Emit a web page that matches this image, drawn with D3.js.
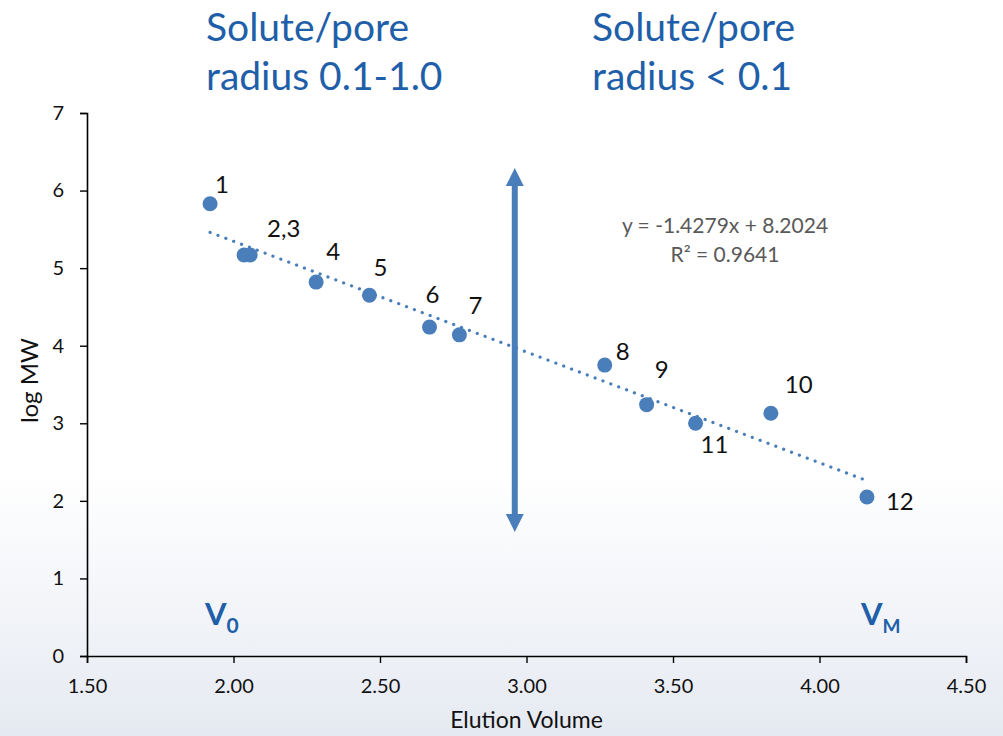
<!DOCTYPE html>
<html>
<head>
<meta charset="utf-8">
<script src="https://cdn.jsdelivr.net/npm/d3@7"></script>
<style>
  html, body { margin: 0; padding: 0; background: #fff; }
  svg { display: block; }
</style>
</head>
<body>
<svg id="chart" width="1003" height="736"></svg>
<script>
// Elution volume vs. log MW for twelve calibration solutes
const pointLabels = ["1", "2", "3", "4", "5", "6", "7", "8", "9", "10", "11", "12"];
const elutionVolume = [1.92, 2.036, 2.057, 2.282, 2.464, 2.669, 2.771, 3.267, 3.410, 3.834, 3.577, 4.162];
const logMW = [5.83, 5.17, 5.17, 4.82, 4.65, 4.24, 4.14, 3.75, 3.24, 3.13, 3.00, 2.05];

// Linear fit reported for the series
const fitSlope = -1.4279;
const fitIntercept = 8.2024;
const fitR2 = 0.9641;

const xTicks = [1.5, 2.0, 2.5, 3.0, 3.5, 4.0, 4.5];
const yTicks = [0, 1, 2, 3, 4, 5, 6, 7];

// Separation boundary marker (elution volume, log MW span)
const boundaryX = 2.96;
const boundarySpan = [1.60, 6.29];

const FONT = "Lato, 'Open Sans', sans-serif";
const BLUE = "#4a7ebb";
const TITLE_BLUE = "#1f5fa9";

const svg = d3.select("#chart");
const W = 1003, H = 736;

// soft backdrop toward the bottom
const defs = svg.append("defs");
const bg = defs.append("linearGradient").attr("id", "bg").attr("x1", 0).attr("y1", 0).attr("x2", 0).attr("y2", 1);
bg.append("stop").attr("offset", "0%").attr("stop-color", "#ffffff");
bg.append("stop").attr("offset", "64%").attr("stop-color", "#ffffff");
bg.append("stop").attr("offset", "82%").attr("stop-color", "#f3f5f9");
bg.append("stop").attr("offset", "100%").attr("stop-color", "#e5e9f1");
svg.append("rect").attr("width", W).attr("height", H).attr("fill", "url(#bg)");

const x = d3.scaleLinear().domain([1.5, 4.5]).range([87, 966]);
const y = d3.scaleLinear().domain([0, 7]).range([656, 113]);

// axes
const xAxis = d3.axisBottom(x).tickValues(xTicks).tickFormat(d3.format(".2f")).tickSize(7).tickPadding(16);
const yAxis = d3.axisLeft(y).tickValues(yTicks).tickFormat(d3.format("d")).tickSize(7).tickPadding(16);

const gx = svg.append("g").attr("transform", `translate(0,${y(0)})`).call(xAxis);
const gy = svg.append("g").attr("transform", `translate(${x(1.5)},0)`).call(yAxis);
[gx, gy].forEach(g => {
  g.select(".domain").attr("stroke", "#000").attr("stroke-width", 1.6);
  g.selectAll(".tick line").attr("stroke", "#000").attr("stroke-width", 1.4);
  g.selectAll(".tick text").attr("font-family", FONT).attr("font-size", 20).attr("fill", "#111");
});

svg.append("text")
  .attr("x", x(3.0)).attr("y", 728)
  .attr("text-anchor", "middle")
  .attr("font-family", FONT).attr("font-size", 23).attr("fill", "#111")
  .text("Elution Volume");

svg.append("text")
  .attr("transform", `translate(38,${y(3.55)}) rotate(-90)`)
  .attr("text-anchor", "middle")
  .attr("font-family", FONT).attr("font-size", 24).attr("fill", "#111")
  .text("log MW");

// trendline across the data range
const xMin = d3.min(elutionVolume), xMax = d3.max(elutionVolume);
svg.append("line")
  .attr("x1", x(xMin)).attr("y1", y(fitSlope * xMin + fitIntercept))
  .attr("x2", x(xMax)).attr("y2", y(fitSlope * xMax + fitIntercept))
  .attr("stroke", BLUE).attr("stroke-width", 3.2)
  .attr("stroke-linecap", "round")
  .attr("stroke-dasharray", "0.1 8.3");

// data points
const pts = pointLabels.map((l, i) => ({ label: l, vx: elutionVolume[i], vy: logMW[i] }));
svg.append("g").selectAll("circle").data(pts).join("circle")
  .attr("cx", d => x(d.vx)).attr("cy", d => y(d.vy))
  .attr("r", 7.5).attr("fill", BLUE);

// point labels (2 and 3 share one label); offsets are in pixels from the point
const labelText = ["1", "2,3", null, "4", "5", "6", "7", "8", "9", "10", "11", "12"];
const labelOffset = [[5, -11], [23, -18], null, [10, -22], [4, -19], [-4, -24], [9, -21], [11, -5], [8, -27], [14, -20], [5, 30], [19, 13]];
svg.append("g").selectAll("text").data(pts.map((d, i) => ({ ...d, t: labelText[i], o: labelOffset[i] })).filter(d => d.t))
  .join("text")
  .attr("x", d => x(d.vx) + d.o[0]).attr("y", d => y(d.vy) + d.o[1])
  .attr("font-family", FONT).attr("font-size", 24).attr("fill", "#111")
  .text(d => d.t);

// fit equation
const eq = svg.append("g").attr("font-family", FONT).attr("font-size", 21).attr("fill", "#595959").attr("text-anchor", "middle");
eq.append("text").attr("x", 725).attr("y", 233)
  .text(`y = ${fitSlope.toFixed(4)}x + ${fitIntercept.toFixed(4)}`);
eq.append("text").attr("x", 725).attr("y", 262)
  .text(`R² = ${fitR2.toFixed(4)}`);

// double-headed boundary arrow
const ax = x(boundaryX), aTop = y(boundarySpan[1]), aBot = y(boundarySpan[0]);
const head = 18, hw = 9;
svg.append("line")
  .attr("x1", ax).attr("x2", ax).attr("y1", aTop + head - 2).attr("y2", aBot - head + 2)
  .attr("stroke", BLUE).attr("stroke-width", 6);
svg.append("path")
  .attr("d", `M${ax},${aTop} L${ax + hw},${aTop + head} L${ax - hw},${aTop + head} Z`)
  .attr("fill", BLUE);
svg.append("path")
  .attr("d", `M${ax},${aBot} L${ax + hw},${aBot - head} L${ax - hw},${aBot - head} Z`)
  .attr("fill", BLUE);

// region titles
const titles = [
  { x: 206, lines: ["Solute/pore", "radius 0.1-1.0"] },
  { x: 592, lines: ["Solute/pore", "radius < 0.1"] }
];
titles.forEach(t => {
  t.lines.forEach((ln, i) => {
    svg.append("text")
      .attr("x", t.x).attr("y", 41 + i * 49)
      .attr("font-family", FONT).attr("font-size", 39).attr("fill", TITLE_BLUE)
      .text(ln);
  });
});

// column markers V0 and VM
[{ x: 205, main: "V", sub: "0", subSize: 21 }, { x: 861, main: "V", sub: "M", subSize: 19 }].forEach(m => {
  const t = svg.append("text")
    .attr("x", m.x).attr("y", 625)
    .attr("font-family", FONT).attr("font-size", 31).attr("font-weight", "bold").attr("fill", TITLE_BLUE);
  t.append("tspan").text(m.main);
  t.append("tspan").attr("dy", 8).attr("font-size", m.subSize).text(m.sub);
});
</script>
</body>
</html>
